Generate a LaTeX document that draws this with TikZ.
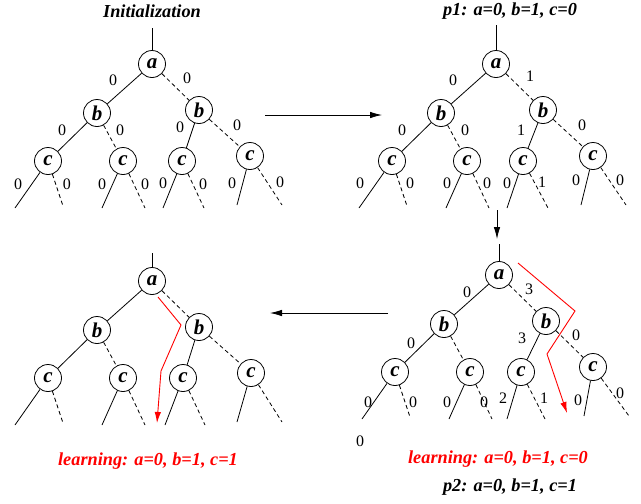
\documentclass[tikz,border=0pt]{standalone}
\usepackage{fontspec}
\setmainfont{Liberation Serif}
\usetikzlibrary{arrows.meta}
\tikzset{
 tn/.style={circle,draw,line width=0.8pt,minimum size=27pt,inner sep=0pt,font=\fontsize{21}{21}\selectfont\bfseries\itshape},
 tl/.style={line width=0.8pt},
 td/.style={line width=0.8pt,dash pattern=on 4pt off 3pt},
 lab/.style={font=\fontsize{16}{16}\selectfont,inner sep=0pt},
 ttl/.style={font=\fontsize{18.3}{18.3}\selectfont\bfseries\itshape,inner sep=0pt},
 redpath/.style={red,line width=0.9pt,-{Latex[length=11pt,width=6.5pt]}},
 conn/.style={line width=0.8pt,-{Latex[length=12pt,width=6.5pt]}}
}
% #1 prefix, #2 root top y, #3 x of third c, #4 #5 x of its leaves, #6 x of fourth c
\newcommand\mktree[6]{%
 \coordinate (#1top) at (152,#2);
 \node[tn] (#1a) at (152,64) {a};
 \node[tn] (#1b1) at (97,113) {b};
 \node[tn] (#1b2) at (199,110) {b};
 \node[tn] (#1c1) at (48,161) {c};
 \node[tn] (#1c2) at (123,161) {c};
 \node[tn] (#1c3) at (#3,161) {c};
 \node[tn] (#1c4) at (#6,156) {c};
 \coordinate (#1l1) at (15,208);
 \coordinate (#1l2) at (63,206);
 \coordinate (#1l3) at (102,208);
 \coordinate (#1l4) at (145,208);
 \coordinate (#1l5) at (#4,208);
 \coordinate (#1l6) at (#5,208);
 \coordinate (#1l7) at (237,205);
 \coordinate (#1l8) at (282,205);
 \draw[tl] (#1top) -- (#1a);
 \draw[tl] (#1a) -- (#1b1);
 \draw[td] (#1a) -- (#1b2);
 \draw[tl] (#1b1) -- (#1c1);
 \draw[td] (#1b1) -- (#1c2);
 \draw[tl] (#1b2) -- (#1c3);
 \draw[td] (#1b2) -- (#1c4);
 \draw[tl] (#1c1) -- (#1l1);
 \draw[td] (#1c1) -- (#1l2);
 \draw[tl] (#1c2) -- (#1l3);
 \draw[td] (#1c2) -- (#1l4);
 \draw[tl] (#1c3) -- (#1l5);
 \draw[td] (#1c3) -- (#1l6);
 \draw[tl] (#1c4) -- (#1l7);
 \draw[td] (#1c4) -- (#1l8);
}
\begin{document}
\begin{tikzpicture}[x=1pt,y=-1pt]
\useasboundingbox (0,0) rectangle (641,504);
% trees
\begin{scope}\mktree{A}{28}{182}{163}{204}{250}\end{scope}
\begin{scope}[shift={(344,0)}]\mktree{B}{25}{179}{163}{204}{249}\end{scope}
\begin{scope}[shift={(0,217)}]\mktree{C}{36}{183}{165}{205}{251}\end{scope}
\begin{scope}[shift={(347,211)}]\mktree{D}{33}{174}{160}{198}{246}\end{scope}
% titles
\node[ttl] (t1) at (152,11) {Initialization};
\node[ttl] (t2) at (510,11) {p1: a=0, b=1, c=0};
\node[ttl,red] (t3) at (148,461) {learning: a=0, b=1, c=1};
\node[ttl,red] (t4) at (498,459) {learning: a=0, b=1, c=0};
\node[ttl] (t5) at (510,487) {p2: a=0, b=1, c=1};
% tree A labels
\node[lab] (A1) at (113,80) {0};
\node[lab] (A2) at (187,78) {0};
\node[lab] (A3) at (62,130) {0};
\node[lab] (A4) at (120,130) {0};
\node[lab] (A5) at (180,127) {0};
\node[lab] (A6) at (237,125) {0};
\node[lab] (A7) at (18,184) {0};
\node[lab] (A8) at (67,184) {0};
\node[lab] (A9) at (102,184) {0};
\node[lab] (A10) at (145,184) {0};
\node[lab] (A11) at (163,183) {0};
\node[lab] (A12) at (203,184) {0};
\node[lab] (A13) at (232,183) {0};
\node[lab] (A14) at (280,182) {0};
% tree B labels
\node[lab] (B1) at (453,80) {0};
\node[lab] (B2) at (530,76) {1};
\node[lab] (B3) at (402,130) {0};
\node[lab] (B4) at (465,130) {0};
\node[lab] (B5) at (521,130) {1};
\node[lab] (B6) at (582,125) {0};
\node[lab] (B7) at (360,183) {0};
\node[lab] (B8) at (410,183) {0};
\node[lab] (B9) at (447,183) {0};
\node[lab] (B10) at (487,183) {0};
\node[lab] (B11) at (507,183) {0};
\node[lab] (B12) at (542,182) {1};
\node[lab] (B13) at (576,180) {0};
\node[lab] (B14) at (620,180) {0};
% tree D labels
\node[lab] (D1) at (467,292) {0};
\node[lab] (D2) at (529,289) {3};
\node[lab] (D3) at (411,343) {0};
\node[lab] (D5) at (522,338) {3};
\node[lab] (D6) at (576,335) {0};
\node[lab] (D7) at (368,402) {0};
\node[lab] (D8) at (413,402) {0};
\node[lab] (D9) at (447,402) {0};
\node[lab] (D10) at (484,402) {0};
\node[lab] (D11) at (503,398) {2};
\node[lab] (D12) at (544,398) {1};
\node[lab] (D13) at (578,400) {0};
\node[lab] (D14) at (620,393) {0};
\node[lab] (D15) at (360,441) {0};
% red paths
\coordinate (rc1) at (158,297);
\coordinate (rc2) at (181,325);
\coordinate (rc3) at (161,371);
\coordinate (rc4) at (157,423);
\draw[redpath] (rc1) -- (rc2) -- (rc3) -- (rc4);
\coordinate (rd1) at (518,263);
\coordinate (rd2) at (575,311);
\coordinate (rd3) at (547,354);
\coordinate (rd4) at (567,413);
\draw[redpath] (rd1) -- (rd2) -- (rd3) -- (rd4);
% connectors between panels
\coordinate (h1s) at (265,115);
\coordinate (h1e) at (382,115);
\draw[conn] (h1s) -- (h1e);
\coordinate (vs) at (497,210);
\coordinate (ve) at (497,239);
\draw[conn] (vs) -- (ve);
\coordinate (h2s) at (388,313);
\coordinate (h2e) at (270,313);
\draw[conn] (h2s) -- (h2e);
\end{tikzpicture}
\end{document}
